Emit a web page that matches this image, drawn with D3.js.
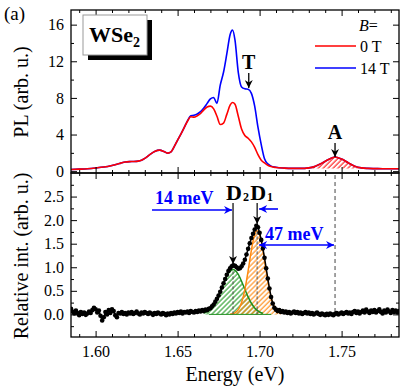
<!DOCTYPE html>
<html>
<head>
<meta charset="utf-8">
<script src="https://cdn.jsdelivr.net/npm/d3@7"></script>
<style>
  body { margin: 0; background: #fff; }
  svg { display: block; }
</style>
</head>
<body>
<svg id="chart" width="415" height="389"></svg>
<script>
// ---- top panel: PL spectra at B = 0 T and 14 T ----
var plEnergy = [1.585, 1.590, 1.595, 1.600, 1.605, 1.610, 1.615, 1.618, 1.622, 1.626,
  1.628, 1.630, 1.633, 1.636, 1.639, 1.642, 1.644, 1.646, 1.648, 1.650,
  1.652, 1.654, 1.656, 1.658, 1.660, 1.662, 1.664, 1.666, 1.668, 1.670,
  1.672, 1.674, 1.676, 1.678, 1.680, 1.682, 1.6835, 1.685, 1.687, 1.689,
  1.691, 1.693, 1.695, 1.697, 1.699, 1.701, 1.703, 1.705, 1.707, 1.710,
  1.715, 1.720, 1.725, 1.730, 1.734, 1.738, 1.742, 1.746, 1.750, 1.754,
  1.758, 1.762, 1.766, 1.770, 1.775, 1.780, 1.785];
var pl0T = [0.18, 0.22, 0.27, 0.35, 0.45, 0.62, 0.85, 1.00, 1.05, 1.10,
  1.20, 1.40, 1.80, 2.15, 2.30, 2.12, 1.97, 2.10, 2.70, 3.40,
  4.05, 4.75, 5.45, 5.95, 5.90, 6.05, 6.30, 6.70, 7.00, 7.10,
  6.80, 6.00, 5.10, 5.25, 6.20, 7.20, 7.50, 7.30, 6.00, 4.60,
  3.90, 3.60, 3.20, 2.60, 1.80, 1.20, 0.90, 0.65, 0.50, 0.40,
  0.33, 0.30, 0.30, 0.36, 0.55, 0.88, 1.28, 1.55, 1.32, 0.92,
  0.55, 0.36, 0.30, 0.28, 0.27, 0.26, 0.26];
var pl14T = [0.18, 0.22, 0.27, 0.35, 0.45, 0.62, 0.85, 1.00, 1.05, 1.10,
  1.20, 1.40, 1.80, 2.15, 2.30, 2.12, 1.97, 2.10, 2.70, 3.40,
  4.05, 4.75, 5.50, 6.05, 6.10, 6.25, 6.50, 6.90, 7.40, 7.90,
  8.05, 7.40, 9.40, 10.8, 12.8, 14.9, 15.4, 14.3, 10.8, 9.20,
  9.00, 8.95, 8.50, 7.10, 4.80, 2.90, 1.35, 0.80, 0.55, 0.42,
  0.33, 0.30, 0.30, 0.36, 0.55, 0.88, 1.28, 1.55, 1.32, 0.92,
  0.55, 0.36, 0.30, 0.28, 0.27, 0.26, 0.26];

var plTicks = [0, 4, 8, 12, 16];
var plMinor = [2, 6, 10, 14];

// ---- bottom panel: relative intensity, sampled every 1 meV from 1.585 eV ----
var relStart = 1.585, relStep = 0.001;
var relInt = [
  0.12, 0.06, 0.02, 0.08, 0.03, -0.02, 0.05, 0.01, 0.04, -0.01,
  0.02, 0.06, 0.03, 0.09, 0.14, 0.11, 0.04, 0.08, -0.03, -0.13,
  -0.06, 0.05, 0.00, 0.09, 0.03, 0.11, 0.07, -0.02, -0.06, 0.03,
  0.02, 0.05, 0.01, 0.03, 0.00, 0.04, 0.02, 0.05, 0.01, 0.03,
  0.06, 0.02, 0.00, 0.04, 0.02, 0.05, 0.03, 0.01, 0.04, 0.02,
  -0.01, 0.03, 0.01, 0.04, 0.02, 0.00, 0.03, 0.01, -0.02, 0.02,
  0.00, 0.03, 0.01, 0.04, 0.02, 0.05, 0.03, 0.06, 0.02, 0.05,
  0.04, 0.06, 0.03, 0.07, 0.05, 0.04, 0.07, 0.05, 0.08, 0.06,
  0.09, 0.07, 0.10, 0.09, 0.12, 0.13, 0.17, 0.21, 0.27, 0.33,
  0.40, 0.48, 0.57, 0.66, 0.75, 0.84, 0.92, 0.98, 1.02, 1.04,
  1.03, 1.00, 0.97, 0.98, 1.02, 1.08, 1.16, 1.27, 1.39, 1.51,
  1.62, 1.71, 1.80, 1.88, 1.85, 1.73, 1.58, 1.40, 1.20, 0.98,
  0.76, 0.55, 0.37, 0.23, 0.14, 0.10, 0.07, 0.09, 0.05, 0.07,
  0.04, 0.06, 0.03, 0.05, 0.02, 0.04, 0.06, 0.03, 0.05, 0.02,
  0.04, 0.01, 0.03, 0.05, 0.02, 0.04, 0.01, 0.03, 0.00, 0.02,
  0.04, 0.01, -0.01, 0.02, 0.00, -0.02, 0.01, -0.01, 0.02, 0.00,
  -0.02, 0.01, 0.03, 0.00, 0.02, 0.04, 0.01, 0.03, 0.05, 0.02,
  0.04, 0.01, 0.05, 0.07, 0.03, 0.06, 0.02, 0.05, 0.08, 0.04,
  0.10, 0.06, 0.03, 0.08, 0.05, 0.09, 0.04, 0.07, 0.11, 0.05,
  0.02, 0.08, 0.04, 0.10, 0.06, 0.03, 0.09, 0.05, 0.08, 0.04,
  0.07];

// fitted D2 (green) and D1 (orange) components, every 1 meV from 1.666 eV
var fitStart = 1.666;
var fitD2 = [0.028, 0.041, 0.059, 0.083, 0.114, 0.154, 0.202, 0.260, 0.327, 0.402,
  0.483, 0.568, 0.654, 0.735, 0.809, 0.871, 0.916, 0.943, 0.950, 0.935,
  0.900, 0.848, 0.781, 0.703, 0.620, 0.534, 0.450, 0.371, 0.299, 0.236,
  0.182, 0.137, 0.101, 0.073, 0.051, 0.036, 0.024, 0.016, 0.010, 0.006,
  0.004, 0.002, 0.001, 0.001, 0, 0, 0, 0];
var fitD1 = [0, 0, 0, 0, 0, 0, 0, 0, 0, 0,
  0, 0, 0, 0, 0, 0, 0.004, 0.010, 0.019, 0.034,
  0.060, 0.101, 0.163, 0.251, 0.371, 0.525, 0.711, 0.923, 1.147, 1.365,
  1.554, 1.695, 1.770, 1.770, 1.695, 1.554, 1.365, 1.147, 0.923, 0.711,
  0.525, 0.371, 0.251, 0.163, 0.101, 0.060, 0.034, 0.019];

var relTicks = [0, 0.5, 1.0, 1.5, 2.0, 2.5];
var relMinor = [-0.25, 0.25, 0.75, 1.25, 1.75, 2.25, 2.75];
var energyTicks = [1.60, 1.65, 1.70, 1.75];
var energyMinor = [1.59, 1.61, 1.62, 1.63, 1.64, 1.66, 1.67, 1.68, 1.69, 1.71, 1.72, 1.73, 1.74, 1.76, 1.77, 1.78];

// peak positions (eV)
var eD2 = 1.6838, eD1 = 1.6985, eA = 1.746, eT = 1.694;

var FONT = '"Liberation Serif", "Times New Roman", Times, "DejaVu Serif", serif';

var svg = d3.select("#chart").style("font-family", FONT);

var x = d3.scaleLinear().domain([1.585, 1.785]).range([71, 399]);
var yTop = d3.scaleLinear().domain([-0.2, 17.6]).range([173, 10]);
var yBot = d3.scaleLinear().domain([-0.48, 3.0]).range([337, 173]);

// hatch patterns
var defs = svg.append("defs");
function hatch(id, color) {
  var p = defs.append("pattern").attr("id", id)
    .attr("patternUnits", "userSpaceOnUse").attr("width", 3.5).attr("height", 3.5)
    .attr("patternTransform", "rotate(45)");
  p.append("line").attr("x1", 1).attr("x2", 1).attr("y1", 0).attr("y2", 3.5)
    .attr("stroke", color).attr("stroke-width", 1.1);
}
hatch("hRed", "#ff1010");
hatch("hGreen", "#229a22");
hatch("hOrange", "#ff8a10");

function marker(id, color) {
  defs.append("marker").attr("id", id)
    .attr("viewBox", "0 0 10 10").attr("refX", 10).attr("refY", 5)
    .attr("markerUnits", "userSpaceOnUse")
    .attr("markerWidth", 10).attr("markerHeight", 8)
    .attr("orient", "auto-start-reverse")
    .append("path").attr("d", "M0,0 L10,5 L0,10 L3,5 Z").attr("fill", color);
}
marker("arK", "#000");
marker("arB", "#0000ff");

defs.append("clipPath").attr("id", "clipTop").append("rect")
  .attr("x", 71).attr("y", 10).attr("width", 328).attr("height", 163);
defs.append("clipPath").attr("id", "clipBot").append("rect")
  .attr("x", 71).attr("y", 173).attr("width", 328).attr("height", 164);

// ---- top panel ----
var plPts0 = plEnergy.map(function (e, i) { return [e, pl0T[i]]; });
var plPts14 = plEnergy.map(function (e, i) { return [e, pl14T[i]]; });
var plLine = d3.line().x(function (d) { return x(d[0]); }).y(function (d) { return yTop(d[1]); })
  .curve(d3.curveMonotoneX);

var gTop = svg.append("g").attr("clip-path", "url(#clipTop)");
var aPts = plPts0.filter(function (d) { return d[0] >= 1.725 && d[0] <= 1.766; });
gTop.append("path").datum(aPts)
  .attr("fill", "url(#hRed)")
  .attr("d", d3.area().x(function (d) { return x(d[0]); })
    .y0(yTop(0.28)).y1(function (d) { return yTop(Math.max(d[1], 0.28)); })
    .curve(d3.curveMonotoneX));
gTop.append("path").datum(plPts14).attr("fill", "none")
  .attr("stroke", "#0000ff").attr("stroke-width", 1.6).attr("d", plLine);
gTop.append("path").datum(plPts0).attr("fill", "none")
  .attr("stroke", "#ff0000").attr("stroke-width", 1.6).attr("d", plLine);

// ---- bottom panel ----
var relPts = relInt.map(function (v, i) { return [relStart + i * relStep, v]; });
var fitPts2 = fitD2.map(function (v, i) { return [fitStart + i * relStep, v]; });
var fitPts1 = fitD1.map(function (v, i) { return [fitStart + i * relStep, v]; });

var gBot = svg.append("g").attr("clip-path", "url(#clipBot)");
var fitArea = d3.area().x(function (d) { return x(d[0]); })
  .y0(yBot(0)).y1(function (d) { return yBot(d[1]); }).curve(d3.curveMonotoneX);
var fitLine = d3.line().x(function (d) { return x(d[0]); })
  .y(function (d) { return yBot(d[1]); }).curve(d3.curveMonotoneX);

gBot.append("path").datum(fitPts2).attr("fill", "url(#hGreen)").attr("d", fitArea);
gBot.append("path").datum(fitPts1).attr("fill", "url(#hOrange)").attr("d", fitArea);
gBot.append("path").datum(fitPts2.filter(function (d) { return d[1] > 0.02; }))
  .attr("fill", "none").attr("stroke", "#1f8f1f").attr("stroke-width", 1.5).attr("d", fitLine);
gBot.append("path").datum(fitPts1.filter(function (d) { return d[1] > 0.003; }))
  .attr("fill", "none").attr("stroke", "#ff8a10").attr("stroke-width", 1.5).attr("d", fitLine);
gBot.append("line").attr("x1", x(1.669)).attr("x2", x(1.707)).attr("y1", yBot(0)).attr("y2", yBot(0))
  .attr("stroke", "#1f8f1f").attr("stroke-width", 1);

// dashed markers at peak centres
gBot.append("line").attr("x1", x(eD2)).attr("x2", x(eD2)).attr("y1", yBot(0)).attr("y2", yBot(0.95))
  .attr("stroke", "#555").attr("stroke-width", 1).attr("stroke-dasharray", "3,2");
gBot.append("line").attr("x1", x(eD1)).attr("x2", x(eD1)).attr("y1", yBot(0)).attr("y2", yBot(1.77))
  .attr("stroke", "#555").attr("stroke-width", 1).attr("stroke-dasharray", "3,2");
gBot.append("line").attr("x1", x(eA)).attr("x2", x(eA)).attr("y1", yBot(0.05)).attr("y2", yBot(3.0))
  .attr("stroke", "#444").attr("stroke-width", 1).attr("stroke-dasharray", "4,3");

gBot.append("path").datum(relPts).attr("fill", "none").attr("stroke", "#000").attr("stroke-width", 1.5)
  .attr("d", d3.line().x(function (d) { return x(d[0]); }).y(function (d) { return yBot(d[1]); }));
gBot.selectAll("circle").data(relPts).enter().append("circle")
  .attr("cx", function (d) { return x(d[0]); })
  .attr("cy", function (d) { return yBot(d[1]); })
  .attr("r", 2.3).attr("fill", "#000");

// ---- axes ----
function panelAxes(y, major, minor, fmt, y0, y1, xLabels) {
  var gl = svg.append("g").attr("transform", "translate(71,0)");
  gl.call(d3.axisLeft(y).tickValues(major).tickSize(-6).tickSizeOuter(0).tickPadding(7).tickFormat(fmt));
  gl.append("g").call(d3.axisLeft(y).tickValues(minor).tickSize(-3).tickSizeOuter(0).tickFormat(""));
  var gr = svg.append("g").attr("transform", "translate(399,0)");
  gr.call(d3.axisRight(y).tickValues(major).tickSize(-6).tickSizeOuter(0).tickFormat(""));
  gr.append("g").call(d3.axisRight(y).tickValues(minor).tickSize(-3).tickSizeOuter(0).tickFormat(""));
  var gb = svg.append("g").attr("transform", "translate(0," + y1 + ")");
  gb.call(d3.axisBottom(x).tickValues(energyTicks).tickSize(-6).tickSizeOuter(0).tickPadding(9)
    .tickFormat(xLabels ? d3.format(".2f") : ""));
  gb.append("g").call(d3.axisBottom(x).tickValues(energyMinor).tickSize(-3).tickSizeOuter(0).tickFormat(""));
  var gt = svg.append("g").attr("transform", "translate(0," + y0 + ")");
  gt.call(d3.axisTop(x).tickValues(energyTicks).tickSize(-6).tickSizeOuter(0).tickFormat(""));
  gt.append("g").call(d3.axisTop(x).tickValues(energyMinor).tickSize(-3).tickSizeOuter(0).tickFormat(""));
  [gl, gr, gb, gt].forEach(function (g) {
    g.attr("font-family", null).attr("font-size", null);
    g.selectAll(".domain").remove();
    g.selectAll("line").attr("stroke", "#000").attr("stroke-width", 1);
    g.selectAll("text").attr("font-size", 16).attr("fill", "#000");
  });
  svg.append("rect").attr("x", 71).attr("y", y0).attr("width", 328).attr("height", y1 - y0)
    .attr("fill", "none").attr("stroke", "#000").attr("stroke-width", 1.3);
}
panelAxes(yTop, plTicks, plMinor, d3.format("d"), 10, 173, false);
panelAxes(yBot, relTicks, relMinor, d3.format(".1f"), 173, 337, true);

// ---- labels ----
svg.append("text").attr("x", 235).attr("y", 381).attr("text-anchor", "middle")
  .attr("font-size", 20).text("Energy (eV)");
svg.append("text").attr("transform", "translate(28,92) rotate(-90)").attr("text-anchor", "middle")
  .attr("font-size", 20).text("PL (arb. u.)");
svg.append("text").attr("transform", "translate(28,256) rotate(-90)").attr("text-anchor", "middle")
  .attr("font-size", 20).text("Relative int. (arb. u.)");
svg.append("text").attr("x", 4).attr("y", 20).attr("font-size", 19).text("(a)");

// WSe2 box
svg.append("rect").attr("x", 88).attr("y", 20).attr("width", 64).attr("height", 40).attr("fill", "#000");
svg.append("rect").attr("x", 83).attr("y", 15).attr("width", 64).attr("height", 40)
  .attr("fill", "#fff").attr("stroke", "#999").attr("stroke-width", 1);
var ws = svg.append("text").attr("x", 89).attr("y", 42).attr("font-size", 22).attr("font-weight", "bold");
ws.append("tspan").text("WSe");
ws.append("tspan").attr("font-size", 14).attr("dy", 5).text("2");

// legend
var bLab = svg.append("text").attr("x", 359).attr("y", 31).attr("font-size", 16);
bLab.append("tspan").attr("font-style", "italic").text("B");
bLab.append("tspan").text("=");
[["0 T", "#ff0000", 46], ["14 T", "#0000ff", 68]].forEach(function (l) {
  svg.append("line").attr("x1", 315).attr("x2", 356).attr("y1", l[2]).attr("y2", l[2])
    .attr("stroke", l[1]).attr("stroke-width", 1.6);
  svg.append("text").attr("x", 360).attr("y", l[2] + 6).attr("font-size", 16).text(l[0]);
});

// T and A markers
svg.append("text").attr("x", x(eT) - 1).attr("y", 69).attr("text-anchor", "middle")
  .attr("font-size", 20).attr("font-weight", "bold").text("T");
svg.append("line").attr("x1", x(eT) - 1).attr("x2", x(eT) - 1).attr("y1", 73).attr("y2", 88)
  .attr("stroke", "#000").attr("stroke-width", 1.3).attr("marker-end", "url(#arK)");
svg.append("text").attr("x", x(eA)).attr("y", 139).attr("text-anchor", "middle")
  .attr("font-size", 20).attr("font-weight", "bold").text("A");
svg.append("line").attr("x1", x(eA)).attr("x2", x(eA)).attr("y1", 143).attr("y2", 157)
  .attr("stroke", "#000").attr("stroke-width", 1.3).attr("marker-end", "url(#arK)");

// D2 / D1 labels and arrows
[[eD2, "2", 1.07], [eD1, "1", 1.92]].forEach(function (d) {
  var t = svg.append("text").attr("x", x(d[0]) - 7).attr("y", 200)
    .attr("font-size", 22).attr("font-weight", "bold");
  t.append("tspan").text("D");
  t.append("tspan").attr("font-size", 12).attr("dx", 1).attr("dy", 1).text(d[1]);
  svg.append("line").attr("x1", x(d[0])).attr("x2", x(d[0])).attr("y1", 203).attr("y2", yBot(d[2]))
    .attr("stroke", "#000").attr("stroke-width", 1.2).attr("marker-end", "url(#arK)");
});

// energy separations
svg.append("text").attr("x", 155).attr("y", 204).attr("font-size", 18).attr("font-weight", "bold")
  .attr("fill", "#0000ff").text("14 meV");
svg.append("line").attr("x1", 152).attr("x2", x(eD2) - 1).attr("y1", 210).attr("y2", 210)
  .attr("stroke", "#0000ff").attr("stroke-width", 1.6).attr("marker-end", "url(#arB)");
svg.append("line").attr("x1", 278).attr("x2", x(eD1) + 2).attr("y1", 209).attr("y2", 209)
  .attr("stroke", "#0000ff").attr("stroke-width", 1.6).attr("marker-end", "url(#arB)");
svg.append("text").attr("x", 265).attr("y", 240).attr("font-size", 18).attr("font-weight", "bold")
  .attr("fill", "#0000ff").text("47 meV");
svg.append("line").attr("x1", x(eD1) + 2).attr("x2", x(eA) - 1).attr("y1", 245).attr("y2", 245)
  .attr("stroke", "#0000ff").attr("stroke-width", 1.6)
  .attr("marker-start", "url(#arB)").attr("marker-end", "url(#arB)");

svg.selectAll("text").style("font-family", FONT);
</script>
</body>
</html>
